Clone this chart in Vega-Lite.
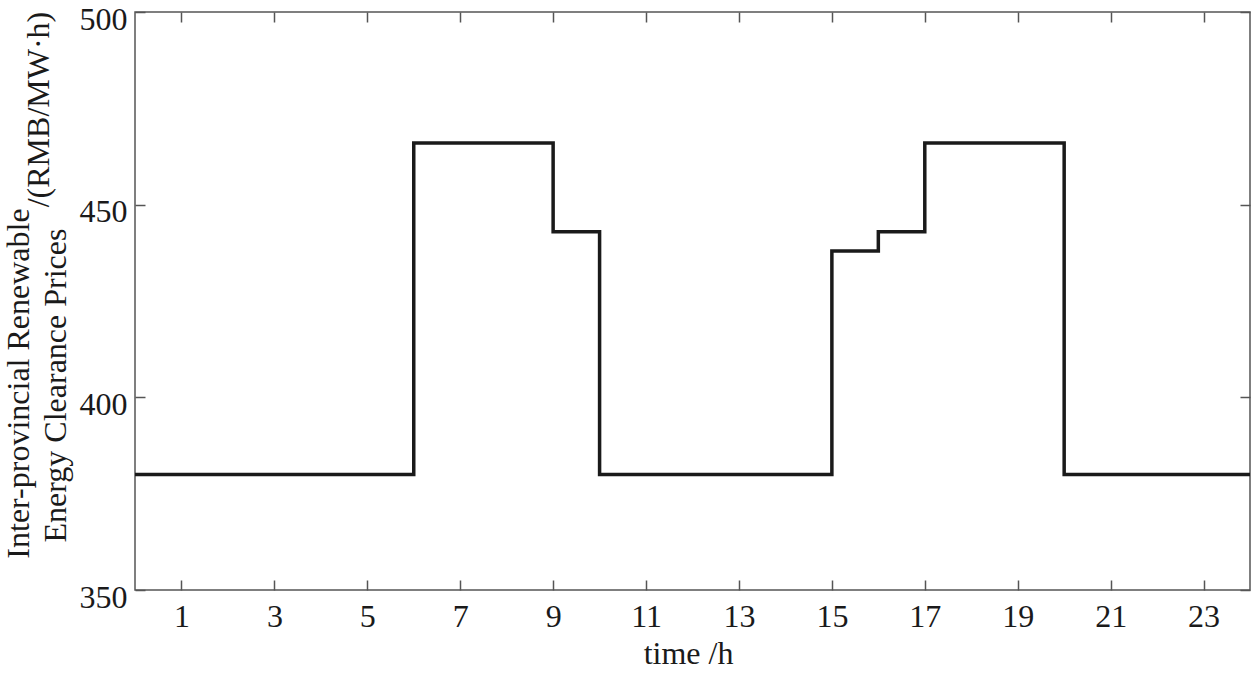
{
  "$schema": "https://vega.github.io/schema/vega-lite/v6.json",
  "width": 1115,
  "height": 578,
  "autosize": "none",
  "padding": {"left": 135, "top": 12, "right": 2, "bottom": 91},
  "background": "white",
  "config": {
    "font": "Liberation Serif",
    "view": {"stroke": "#555555", "strokeWidth": 1.5},
    "axis": {
      "domain": false,
      "grid": false,
      "tickColor": "#555555",
      "tickWidth": 1.5,
      "tickSize": -10,
      "labelFont": "Liberation Serif",
      "labelFontSize": 32,
      "labelColor": "#1a1a1a",
      "titleFont": "Liberation Serif",
      "titleFontSize": 32,
      "titleFontWeight": "normal",
      "titleColor": "#1a1a1a"
    }
  },
  "data": {
    "values": [
      {"hour": 0, "price": 380},
      {"hour": 1, "price": 380},
      {"hour": 2, "price": 380},
      {"hour": 3, "price": 380},
      {"hour": 4, "price": 380},
      {"hour": 5, "price": 380},
      {"hour": 6, "price": 466},
      {"hour": 7, "price": 466},
      {"hour": 8, "price": 466},
      {"hour": 9, "price": 443},
      {"hour": 10, "price": 380},
      {"hour": 11, "price": 380},
      {"hour": 12, "price": 380},
      {"hour": 13, "price": 380},
      {"hour": 14, "price": 380},
      {"hour": 15, "price": 438},
      {"hour": 16, "price": 443},
      {"hour": 17, "price": 466},
      {"hour": 18, "price": 466},
      {"hour": 19, "price": 466},
      {"hour": 20, "price": 380},
      {"hour": 21, "price": 380},
      {"hour": 22, "price": 380},
      {"hour": 23, "price": 380},
      {"hour": 24, "price": 380}
    ]
  },
  "layer": [
    {
      "mark": {"type": "line", "interpolate": "step-after", "color": "#1a1a1a", "strokeWidth": 3.5, "clip": true},
      "encoding": {
        "x": {
          "field": "hour", "type": "quantitative",
          "scale": {"domain": [0, 24], "nice": false, "zero": false},
          "axis": {
            "orient": "bottom",
            "values": [1, 3, 5, 7, 9, 11, 13, 15, 17, 19, 21, 23],
            "labelPadding": 21,
            "title": "time /h",
            "titleFont": "Liberation Serif",
            "titleX": 553,
            "titleY": 73,
            "titleBaseline": "alphabetic",
            "titleAlign": "center"
          }
        },
        "y": {
          "field": "price", "type": "quantitative",
          "scale": {"domain": [350, 500], "nice": false, "zero": false},
          "axis": {
            "orient": "left",
            "values": [350, 400, 450, 500],
            "labelPadding": 18,
            "labelOffset": 7,
            "title": "Inter-provincial Renewable",
            "titleFont": "Liberation Serif",
            "titleAngle": -90,
            "titleX": -107,
            "titleY": 371,
            "titleAlign": "center",
            "titleBaseline": "alphabetic"
          }
        }
      }
    },
    {
      "mark": {"type": "line", "interpolate": "step-after", "strokeOpacity": 0},
      "encoding": {
        "x": {
          "field": "hour", "type": "quantitative",
          "axis": {"orient": "top", "values": [1, 3, 5, 7, 9, 11, 13, 15, 17, 19, 21, 23], "labels": false, "title": null}
        },
        "y": {
          "field": "price", "type": "quantitative",
          "axis": {"orient": "right", "values": [350, 400, 450, 500], "labels": false, "title": null}
        }
      }
    },
    {
      "mark": {"type": "line", "interpolate": "step-after", "strokeOpacity": 0},
      "encoding": {
        "x": {"field": "hour", "type": "quantitative", "axis": null},
        "y": {
          "field": "price", "type": "quantitative",
          "axis": {
            "orient": "left", "labels": false, "ticks": false, "domain": false,
            "title": "/(RMB/MW·h)",
            "titleFont": "Liberation Serif",
            "titleFontSize": 32,
            "titleAngle": -90,
            "titleX": -87,
            "titleY": 97,
            "titleAlign": "center",
            "titleBaseline": "alphabetic"
          }
        }
      }
    },
    {
      "mark": {"type": "line", "interpolate": "step-after", "strokeOpacity": 0},
      "encoding": {
        "x": {"field": "hour", "type": "quantitative", "axis": null},
        "y": {
          "field": "price", "type": "quantitative",
          "axis": {
            "orient": "left", "labels": false, "ticks": false, "domain": false,
            "title": "Energy Clearance Prices",
            "titleFont": "Liberation Serif",
            "titleFontSize": 32,
            "titleAngle": -90,
            "titleX": -70,
            "titleY": 373,
            "titleAlign": "center",
            "titleBaseline": "alphabetic"
          }
        }
      }
    }
  ],
  "resolve": {"axis": {"x": "independent", "y": "independent"}}
}
